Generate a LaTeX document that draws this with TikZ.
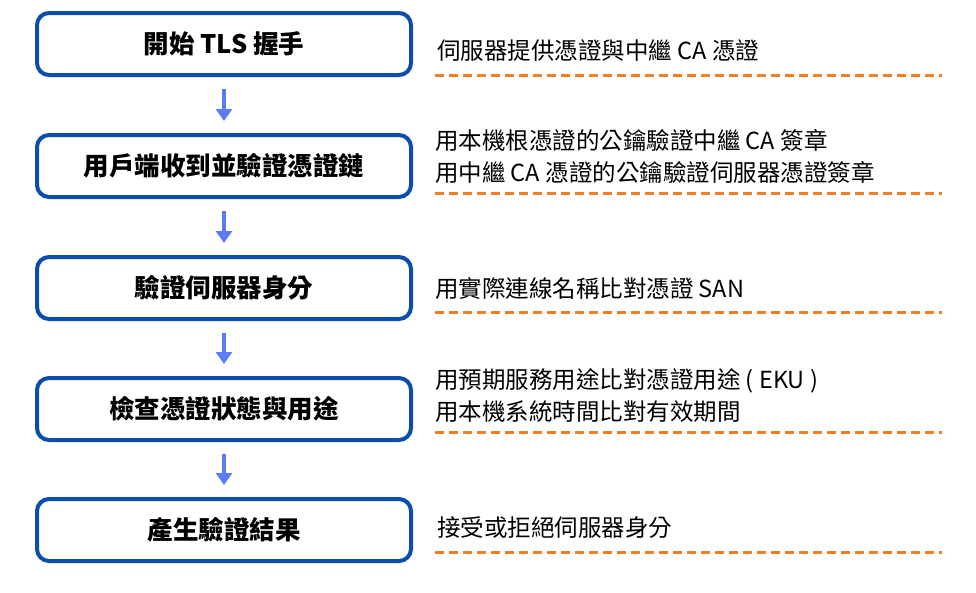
\documentclass[tikz,border=0pt]{standalone}
\usepackage{fontspec}
\setmainfont{Noto Sans CJK TC}
\usetikzlibrary{arrows.meta,positioning}
\definecolor{boxblue}{HTML}{0A4DAD}
\definecolor{arrowblue}{HTML}{5B7CF6}
\definecolor{dashorange}{HTML}{F57F20}

\begin{document}
\begin{tikzpicture}[x=1pt,y=-1pt,
      mystep/.style={
         rectangle,
         rounded corners=12pt,
         draw=boxblue,
         line width=4pt,
         fill=white,
         minimum width=374pt,
         minimum height=62pt,
         font=\fontsize{25.5}{30}\selectfont\bfseries},
      mynote/.style={
         anchor=west,
         align=left,
         inner sep=0pt,
         font=\fontsize{23.5}{32}\selectfont},
      myarrow/.style={-{Triangle[width=16pt,length=12pt]}, draw=arrowblue, line width=3.5pt},
      mydash/.style={draw=dashorange, line width=3pt, dash pattern=on 9pt off 5pt}
      ]
\useasboundingbox (0,0) rectangle (976,592);

\node[mystep] (s1) at (224,44)  {開始 TLS 握手};
\node[mystep] (s2) at (224,166) {用戶端收到並驗證憑證鏈};
\node[mystep] (s3) at (224,288) {驗證伺服器身分};
\node[mystep] (s4) at (224,409) {檢查憑證狀態與用途};
\node[mystep] (s5) at (224,530) {產生驗證結果};

\node[mynote] (n1) at (437,50)  {伺服器提供憑證與中繼 CA 憑證};
\node[mynote] (n2) at (435,156) {用本機根憑證的公鑰驗證中繼 CA 簽章\\用中繼 CA 憑證的公鑰驗證伺服器憑證簽章};
\node[mynote] (n3) at (435,289) {用實際連線名稱比對憑證 SAN};
\node[mynote] (n4) at (435,396) {用預期服務用途比對憑證用途 ( EKU )\\用本機系統時間比對有效期間};
\node[mynote] (n5) at (437,528) {接受或拒絕伺服器身分};

\foreach \y/\n in {75/1,193/2,312/3,432/4,552/5}{
   \coordinate (d\n a) at (435,\y);
   \coordinate (d\n b) at (942,\y);
   \draw[mydash] (d\n a) -- (d\n b);
}

\foreach \i/\j in {s1/s2,s2/s3,s3/s4,s4/s5}
   \draw[myarrow] ([yshift=-12pt]\i.south) -- ([yshift=12pt]\j.north);

\end{tikzpicture}
\end{document}
